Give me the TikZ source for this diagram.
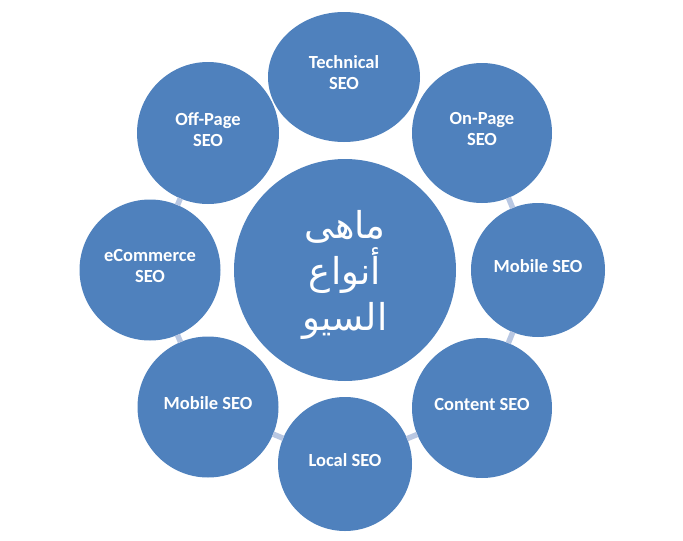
\documentclass[tikz,border=0pt]{standalone}
\usepackage{fontspec}
\setmainfont{Carlito}
\newfontfamily\arabicfont[Script=Arabic]{DejaVu Sans}
\TeXXeTstate=1
\usepackage{tikz}
\usetikzlibrary{shapes.geometric}
\definecolor{seoblue}{RGB}{79, 129, 189}
\definecolor{seolink}{RGB}{184, 199, 226}

\begin{document}
\begin{tikzpicture}[x=1pt, y=-1pt, thick,
  seo/.style={circle, fill=seoblue, minimum size=#1, inner sep=0pt, text=white,
    font=\bfseries\fontsize{18.5}{21}\selectfont, align=center, text depth=8pt},
  gap/.style={draw=seolink, line width=5.5pt, shorten <=-0.5pt, shorten >=-0.5pt}]
  \useasboundingbox (0, 0) rectangle (683, 541);

  \node[seo=222pt, font=\arabicfont\fontsize{37}{46}\selectfont, text depth=0pt] (hub) at (345, 270)
    {\beginR ماهى\endR\\\beginR أنواع\endR\\\beginR السيو\endR};

  \node[seo=130pt, ellipse, minimum width=152pt] (tech) at (344, 77) {Technical\\SEO};
  \node[seo=142pt] (offpage) at (208, 133) {Off-Page\\SEO};
  \node[seo=140pt] (onpage) at (482, 133) {On-Page\\SEO};
  \node[seo=141pt] (ecom) at (150, 270) {eCommerce\\SEO};
  \node[seo=134pt] (mobr) at (538, 270) {Mobile SEO};
  \node[seo=141pt] (mobl) at (208, 407) {Mobile SEO};
  \node[seo=140pt] (content) at (482, 408) {Content SEO};
  \node[seo=134pt] (local) at (345, 464) {Local SEO};

  \draw[gap] (onpage) -- (mobr);
  \draw[gap] (mobr) -- (content);
  \draw[gap] (content) -- (local);
  \draw[gap] (local) -- (mobl);
  \draw[gap] (mobl) -- (ecom);
  \draw[gap] (ecom) -- (offpage);
\end{tikzpicture}
\end{document}
